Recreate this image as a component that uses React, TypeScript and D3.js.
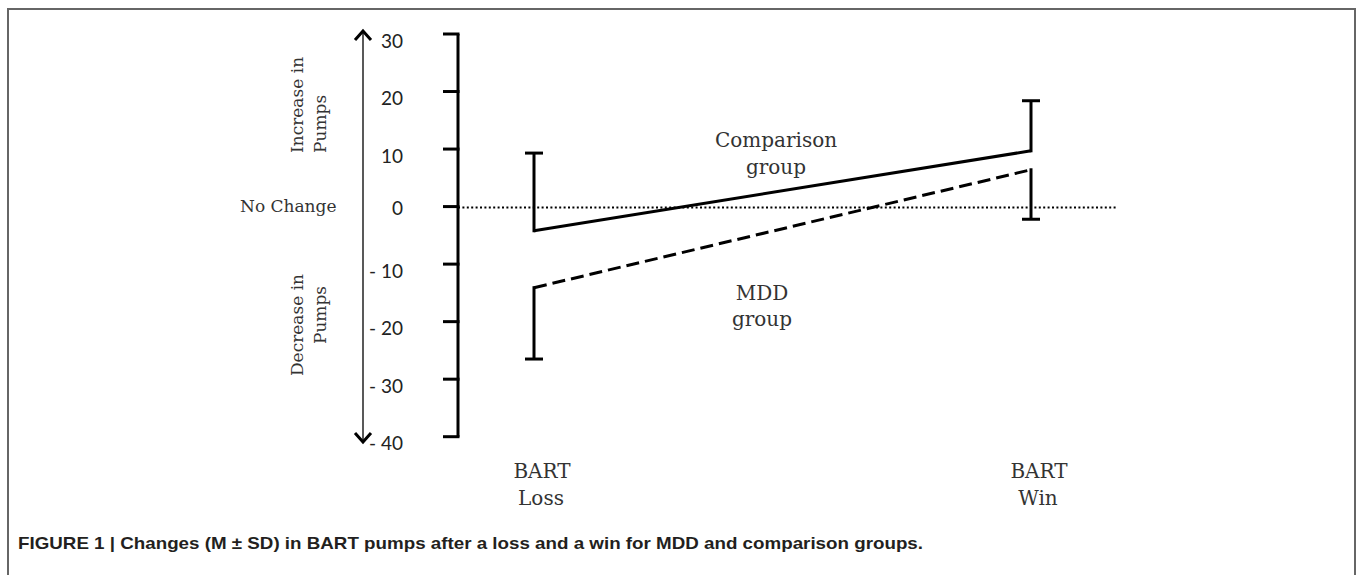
import React from 'react';
import * as d3 from 'd3';

// BART pump changes
const conditions = ['Loss', 'Win'];
const comparisonMean = [-4.2, 9.7];
const comparisonSD = [13.5, 8.7];
const mddMean = [-14.1, 6.4];
const mddSD = [12.4, 8.6];
const yTicks = [30, 20, 10, 0, -10, -20, -30, -40];
const yTickLabels = ['30', '20', '10', '0', '- 10', '- 20', '- 30', '- 40'];
const xLabelsTop = ['BART', 'BART'];

const width = 1357;
const height = 575;
const serif = '"DejaVu Serif", serif';

const App = () => {
  const y = d3.scaleLinear().domain([-40, 30]).range([436.7, 34]);
  const x = d3.scalePoint<string>().domain(conditions).range([534, 1031]);
  const axisX = 458;
  const cap = 9;

  const line = d3.line<[string, number]>()
    .x(d => x(d[0]) as number)
    .y(d => y(d[1]));

  const compPts = conditions.map((c, i) => [c, comparisonMean[i]] as [string, number]);
  const mddPts = conditions.map((c, i) => [c, mddMean[i]] as [string, number]);
  const zeroY = Math.round(y(0)) + 0.5;

  return (
    <svg width={width} height={height} style={{ position: 'absolute', left: 0, top: 0, background: '#fff' }}>
      {/* frame */}
      <path d={`M8,${height} V9 H1355 V${height}`} fill="none" stroke="#666" strokeWidth={2} />

      {/* double-headed arrow */}
      <line x1={363} x2={363} y1={32} y2={442} stroke="#222" strokeWidth={1.5} />
      <path d="M355,40 L363,31 L371,40" fill="none" stroke="#000" strokeWidth={3} />
      <path d="M355,433 L363,442 L371,433" fill="none" stroke="#000" strokeWidth={3} />

      {/* side annotations */}
      <text transform="translate(303,153) rotate(-90)" fontFamily={serif} fontSize={17} fill="#333">Increase in</text>
      <text transform="translate(326,153) rotate(-90)" fontFamily={serif} fontSize={17} fill="#333">Pumps</text>
      <text x={240} y={212} fontFamily={serif} fontSize={17} fill="#333">No Change</text>
      <text transform="translate(303,325) rotate(-90)" textAnchor="middle" fontFamily={serif} fontSize={17} fill="#333">Decrease in</text>
      <text transform="translate(326,315) rotate(-90)" textAnchor="middle" fontFamily={serif} fontSize={17} fill="#333">Pumps</text>

      {/* tick labels */}
      {yTicks.map((t, i) => (
        <text key={t} x={403} y={y(t) + (t === 0 ? 2 : 7)} dy="0.35em" textAnchor="end"
          fontFamily="Lato, sans-serif" fontSize={19} fill="#222">{yTickLabels[i]}</text>
      ))}

      {/* y axis */}
      <line x1={axisX} x2={axisX} y1={y(30)} y2={y(-40)} stroke="#000" strokeWidth={3} />
      {yTicks.map(t => (
        <line key={t} x1={443} x2={axisX + 1.5} y1={y(t)} y2={y(t)} stroke="#000" strokeWidth={3} />
      ))}

      {/* zero reference */}
      <line x1={axisX} x2={1117} y1={zeroY} y2={zeroY} stroke="#000" strokeWidth={2} strokeDasharray="2,2.4" />

      {/* group lines */}
      <path d={line(compPts) || ''} fill="none" stroke="#000" strokeWidth={3} />
      <path d={line(mddPts) || ''} fill="none" stroke="#000" strokeWidth={3} strokeDasharray="13,6" />

      {/* comparison error bars (upwards) */}
      {conditions.map((c, i) => {
        const cx = x(c) as number;
        const top = y(comparisonMean[i] + comparisonSD[i]);
        return (
          <g key={'c' + c}>
            <line x1={cx} x2={cx} y1={y(comparisonMean[i]) + 1.5} y2={top} stroke="#000" strokeWidth={3} />
            <line x1={cx - cap} x2={cx + cap} y1={top} y2={top} stroke="#000" strokeWidth={3} />
          </g>
        );
      })}

      {/* MDD error bars (downwards) */}
      {conditions.map((c, i) => {
        const cx = x(c) as number;
        const bottom = y(mddMean[i] - mddSD[i]);
        return (
          <g key={'m' + c}>
            <line x1={cx} x2={cx} y1={y(mddMean[i]) - 1.5} y2={bottom} stroke="#000" strokeWidth={3} />
            <line x1={cx - cap} x2={cx + cap} y1={bottom} y2={bottom} stroke="#000" strokeWidth={3} />
          </g>
        );
      })}

      {/* group labels */}
      <text x={776} y={147} textAnchor="middle" fontFamily={serif} fontSize={20} fill="#333">Comparison</text>
      <text x={776} y={174} textAnchor="middle" fontFamily={serif} fontSize={20} fill="#333">group</text>
      <text x={762} y={300} textAnchor="middle" fontFamily={serif} fontSize={20} fill="#333">MDD</text>
      <text x={762} y={326} textAnchor="middle" fontFamily={serif} fontSize={20} fill="#333">group</text>

      {/* x labels */}
      {conditions.map((c, i) => (
        <g key={'x' + c}>
          <text x={(x(c) as number) + 8} y={478} textAnchor="middle" fontFamily={serif} fontSize={20} fill="#333">{xLabelsTop[i]}</text>
          <text x={(x(c) as number) + 7} y={505} textAnchor="middle" fontFamily={serif} fontSize={20} fill="#333">{c}</text>
        </g>
      ))}

      {/* caption */}
      <text x={18} y={549} fontFamily='"Liberation Sans", Arial, sans-serif' fontWeight="bold" fontSize={17}
        textLength={905} lengthAdjust="spacingAndGlyphs" fill="#231f20">
        FIGURE 1 | Changes (M ± SD) in BART pumps after a loss and a win for MDD and comparison groups.
      </text>
    </svg>
  );
};

export default App;
